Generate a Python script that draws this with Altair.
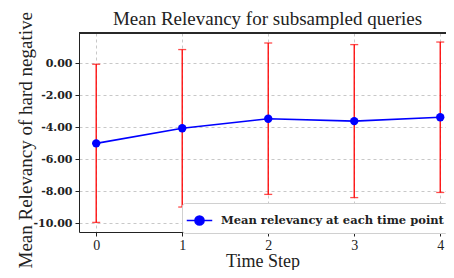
import altair as alt
import pandas as pd

time_steps = [0, 1, 2, 3, 4]
mean_relevancy = [-5.02, -4.08, -3.48, -3.63, -3.39]
err_relevancy = [4.94, 4.92, 4.73, 4.78, 4.70]
series_name = "Mean relevancy at each time point"
y_ticks = [-10, -8, -6, -4, -2, 0]
chart_title = ["Mean Relevancy for subsampled queries"]

df = pd.DataFrame({"t": time_steps, "mean": mean_relevancy, "err": err_relevancy})
df["lo"] = df["mean"] - df["err"]
df["hi"] = df["mean"] + df["err"]
df["series"] = series_name

SERIF = "Liberation Serif"
BOLD = "DejaVu Serif"
W, H = 367, 199

xscale = alt.Scale(domain=[-0.2, 4.067], nice=False, zero=False)
yscale = alt.Scale(domain=[-10.56, 1.875], nice=False, zero=False)

xaxis = alt.Axis(values=time_steps, format="d", title="Time Step",
                 labelFont=SERIF, labelFontSize=14, labelColor="#222",
                 labelPadding=2, tickSize=4, tickColor="#222",
                 domainColor="#222", titleFont=SERIF, titleFontSize=18,
                 titleFontWeight="normal", titleColor="#222",
                 titleBaseline="alphabetic", titleY=34,
                 gridDash=[3, 3], gridColor="#c8c8c8")
yaxis = alt.Axis(values=y_ticks, title="Mean Relevancy of hard negative",
                 labelExpr="replace(format(datum.value, '.2f'), '\u2212', '-')",
                 labelFont=BOLD, labelFontSize=11, labelFontWeight="bold",
                 labelColor="#222", labelPadding=3, tickSize=4, tickColor="#222",
                 domainColor="#222", titleFont=SERIF, titleFontSize=19,
                 titleFontWeight="normal", titleColor="#222",
                 titleAngle=270, titleAlign="left", titleBaseline="alphabetic",
                 titleX=-48, titleY=235,
                 gridDash=[3, 3], gridColor="#c8c8c8")

base = alt.Chart(df)
X = alt.X("t:Q", scale=xscale, axis=xaxis)

bars = base.mark_rule(color="red", strokeWidth=1.3).encode(
    x=X, y=alt.Y("lo:Q", scale=yscale, axis=yaxis), y2="hi:Q")
cap_lo = base.mark_tick(color="red", orient="horizontal", size=8, thickness=1.3).encode(
    x=X, y=alt.Y("lo:Q", scale=yscale, axis=yaxis))
cap_hi = base.mark_tick(color="red", orient="horizontal", size=8, thickness=1.3).encode(
    x=X, y=alt.Y("hi:Q", scale=yscale, axis=yaxis))

color = alt.Color("series:N", scale=alt.Scale(domain=[series_name], range=["blue"]),
                  legend=alt.Legend(title=None, orient="none", legendX=103, legendY=170,
                                    fillColor="white", strokeColor="#d0d0d0",
                                    cornerRadius=3, padding=4,
                                    labelFont=BOLD, labelFontSize=11.5,
                                    labelFontWeight="bold", labelColor="#222",
                                    labelOffset=8, labelLimit=400,
                                    symbolType="M-1,0L1,0M-0.36,0A0.36,0.36 0 1,0 0.36,0A0.36,0.36 0 1,0 -0.36,0Z",
                                    symbolSize=650, symbolStrokeWidth=1.5,
                                    symbolFillColor="blue", symbolStrokeColor="blue"))

line = base.mark_line(color="blue", strokeWidth=1.6).encode(
    x=X, y=alt.Y("mean:Q", scale=yscale, axis=yaxis), color=color)
pts = base.mark_circle(color="blue", size=70, opacity=1).encode(
    x=X, y=alt.Y("mean:Q", scale=yscale, axis=yaxis))

top_spine = alt.Chart(df).mark_rule(color="#222", strokeWidth=1).encode(
    x=alt.value(0), x2=alt.value(W + 20), y=alt.value(0))

title_text = alt.Chart(pd.DataFrame({"label": chart_title})).mark_text(
    font=SERIF, fontSize=19, color="#222", align="center", baseline="alphabetic"
).encode(text="label:N", x=alt.value(188.5), y=alt.value(-8))

chart = alt.layer(bars, cap_lo, cap_hi, line, pts, top_spine, title_text).properties(
    width=W, height=H,
    autosize="none",
    padding={"left": 71, "top": 25, "right": 0, "bottom": 38},
).configure_view(stroke=None)

chart.save("out.html", embed_options={"renderer": "svg", "actions": False})
